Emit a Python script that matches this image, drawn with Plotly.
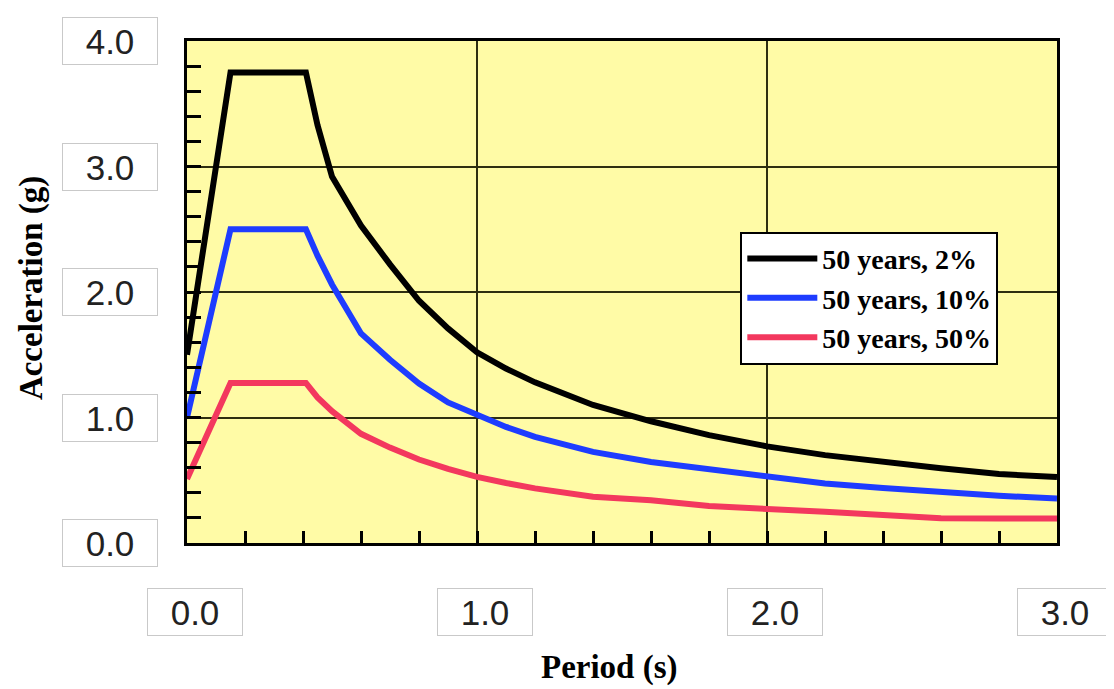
import plotly.graph_objects as go

# ---- data ----
period = [0.0, 0.15, 0.41, 0.45, 0.5, 0.6, 0.7, 0.8, 0.9, 1.0, 1.1, 1.2,
          1.4, 1.6, 1.8, 2.0, 2.2, 2.4, 2.6, 2.8, 3.0]
acc_2pct = [1.5, 3.75, 3.75, 3.33, 2.92, 2.53, 2.22, 1.93, 1.71, 1.52, 1.39, 1.28,
            1.10, 0.97, 0.86, 0.77, 0.70, 0.645, 0.595, 0.55, 0.525]
acc_10pct = [1.0, 2.5, 2.5, 2.29, 2.06, 1.67, 1.46, 1.27, 1.12, 1.02, 0.925, 0.845,
             0.726, 0.645, 0.586, 0.527, 0.475, 0.438, 0.405, 0.376, 0.355]
acc_50pct = [0.51, 1.275, 1.275, 1.16, 1.05, 0.87, 0.76, 0.665, 0.59, 0.527, 0.478, 0.435,
             0.368, 0.34, 0.294, 0.276, 0.249, 0.223, 0.198, 0.196, 0.196]
series_names = ["50 years, 2%", "50 years, 10%", "50 years, 50%"]
series_colors = ["#000000", "#1e3cff", "#f3385e"]

x_tick_vals = [0, 1, 2, 3]
x_tick_text = ["0.0", "1.0", "2.0", "3.0"]
y_tick_vals = [0, 1, 2, 3, 4]
y_tick_text = ["0.0", "1.0", "2.0", "3.0", "4.0"]
x_title = "Period (s)"
y_title = "Acceleration (g)"

fig = go.Figure()
for name, ys, col in zip(series_names, [acc_2pct, acc_10pct, acc_50pct], series_colors):
    fig.add_trace(go.Scatter(x=period, y=ys, mode="lines", name=name,
                             line=dict(color=col, width=6)))

serif = "Liberation Serif, Times New Roman, serif"
sans = "Liberation Sans, Arial, sans-serif"

annotations = []
for v, t in zip(x_tick_vals, x_tick_text):
    annotations.append(dict(x=v, xref="x", y=-0.1375, yref="paper", text=t,
                            xanchor="center", yanchor="middle",
                            showarrow=False, xshift=8, width=92, height=44,
                            bgcolor="#ffffff", bordercolor="#c9c9c9", borderwidth=1,
                            font=dict(family=sans, size=35, color="#222222")))
for v, t in zip(y_tick_vals, y_tick_text):
    annotations.append(dict(x=-0.0885, xref="paper", y=v, yref="y", text=t,
                            xanchor="center", yanchor="middle",
                            showarrow=False, width=92, height=44,
                            bgcolor="#ffffff", bordercolor="#c9c9c9", borderwidth=1,
                            font=dict(family=sans, size=35, color="#222222")))
annotations.append(dict(x=0.486, xref="paper", y=-0.249, yref="paper", text=x_title,
                        xanchor="center", yanchor="middle",
                        showarrow=False, font=dict(family=serif, size=33, color="#000000",
                                                   weight="bold")))
annotations.append(dict(x=-0.178, xref="paper", y=0.508, yref="paper", text=y_title,
                        xanchor="center", yanchor="middle",
                        textangle=-90, showarrow=False,
                        font=dict(family=serif, size=33, color="#000000", weight="bold")))

fig.update_layout(
    width=1114, height=689,
    margin=dict(l=179, r=65, t=33, b=154),
    paper_bgcolor="#ffffff",
    plot_bgcolor="#fffba6",
    annotations=annotations,
    legend=dict(x=0.636, y=0.62, xanchor="left", yanchor="top",
                bgcolor="#ffffff", bordercolor="#000000", borderwidth=2,
                font=dict(family=serif, size=28, color="#000000", weight="bold"),
                itemwidth=70, tracegroupgap=0),
    showlegend=True,
)
fig.update_xaxes(range=[0, 3], tickvals=x_tick_vals, showticklabels=False,
                 ticks="inside", ticklen=12, tickwidth=3, tickcolor="#000000",
                 showgrid=True, gridcolor="#2e2e10", gridwidth=2,
                 showline=True, linecolor="#000000", linewidth=3, mirror=True,
                 zeroline=False,
                 minor=dict(dtick=0.2, ticks="inside", ticklen=12, tickwidth=3,
                            tickcolor="#000000", showgrid=False))
fig.update_yaxes(range=[0, 4], tickvals=y_tick_vals, showticklabels=False,
                 ticks="inside", ticklen=14, tickwidth=3, tickcolor="#000000",
                 showgrid=True, gridcolor="#2e2e10", gridwidth=2,
                 showline=True, linecolor="#000000", linewidth=3, mirror=True,
                 zeroline=False,
                 minor=dict(dtick=0.2, ticks="inside", ticklen=14, tickwidth=3,
                            tickcolor="#000000", showgrid=False))

fig.write_html("out.html")
